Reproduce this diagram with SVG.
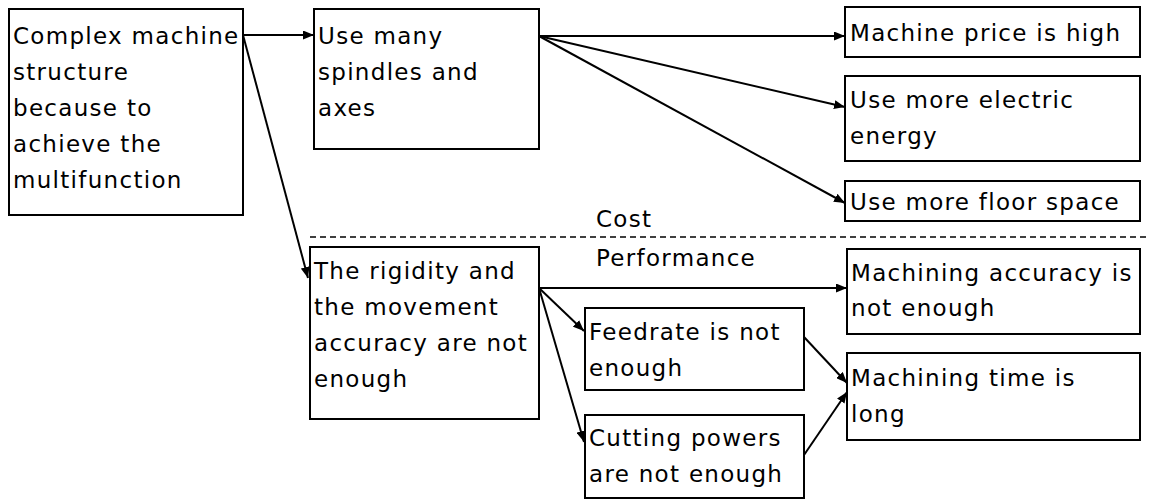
<svg xmlns="http://www.w3.org/2000/svg" width="1149" height="499" viewBox="0 0 1149 499">
  <style>
    .box { fill: #ffffff; stroke: #000000; stroke-width: 2; }
    .lbl { font-family: "DejaVu Sans", "Noto Sans", sans-serif; font-size: 23px; letter-spacing: 1.3px; fill: #000000; }
    .edge { fill: none; stroke: #000000; stroke-width: 2; }
    .divider { fill: none; stroke: #000000; stroke-width: 1.5; stroke-dasharray: 6 4; }
  </style>
  <defs>
    <marker id="arrow" markerUnits="userSpaceOnUse" markerWidth="11" markerHeight="9" refX="11" refY="4.5" orient="auto">
      <path d="M0,0 L11,4.5 L0,9 Z" fill="#000000"/>
    </marker>
  </defs>
  <rect width="1149" height="499" fill="#ffffff"/>

  <!-- cost / performance divider -->
  <g id="divider">
    <line class="divider" x1="310" y1="237" x2="1149" y2="237"/>
    <text class="lbl" x="596" y="227">Cost</text>
    <text class="lbl" x="596" y="266">Performance</text>
  </g>

  <g id="n-structure">
    <rect class="box" x="9" y="9" width="234" height="206"/>
    <text class="lbl" x="13" y="44">Complex machine</text>
    <text class="lbl" x="13" y="80">structure</text>
    <text class="lbl" x="13" y="116">because to</text>
    <text class="lbl" x="13" y="152">achieve the</text>
    <text class="lbl" x="13" y="188">multifunction</text>
  </g>

  <g id="n-spindles">
    <rect class="box" x="314" y="9" width="225" height="140"/>
    <text class="lbl" x="318" y="44">Use many</text>
    <text class="lbl" x="318" y="80">spindles and</text>
    <text class="lbl" x="318" y="116">axes</text>
  </g>

  <g id="n-price">
    <rect class="box" x="845" y="7" width="295" height="50"/>
    <text class="lbl" x="850" y="41">Machine price is high</text>
  </g>

  <g id="n-energy">
    <rect class="box" x="845" y="76" width="295" height="85"/>
    <text class="lbl" x="850" y="108">Use more electric</text>
    <text class="lbl" x="850" y="144">energy</text>
  </g>

  <g id="n-floor">
    <rect class="box" x="845" y="181" width="295" height="40"/>
    <text class="lbl" x="850" y="210">Use more floor space</text>
  </g>

  <g id="n-rigidity">
    <rect class="box" x="310" y="247" width="229" height="172"/>
    <text class="lbl" x="314" y="279">The rigidity and</text>
    <text class="lbl" x="314" y="315">the movement</text>
    <text class="lbl" x="314" y="351">accuracy are not</text>
    <text class="lbl" x="314" y="387">enough</text>
  </g>

  <g id="n-accuracy">
    <rect class="box" x="847" y="249" width="293" height="85"/>
    <text class="lbl" x="851" y="281">Machining accuracy is</text>
    <text class="lbl" x="851" y="316">not enough</text>
  </g>

  <g id="n-feedrate">
    <rect class="box" x="585" y="308" width="219" height="82"/>
    <text class="lbl" x="589" y="340">Feedrate is not</text>
    <text class="lbl" x="589" y="376">enough</text>
  </g>

  <g id="n-cutting">
    <rect class="box" x="585" y="415" width="219" height="83"/>
    <text class="lbl" x="589" y="446">Cutting powers</text>
    <text class="lbl" x="589" y="482">are not enough</text>
  </g>

  <g id="n-time">
    <rect class="box" x="847" y="353" width="293" height="87"/>
    <text class="lbl" x="851" y="386">Machining time is</text>
    <text class="lbl" x="851" y="422">long</text>
  </g>

  <g id="connectors">
    <line class="edge" x1="243" y1="35" x2="314" y2="35" marker-end="url(#arrow)"/>
    <line class="edge" x1="243" y1="35" x2="308" y2="278" marker-end="url(#arrow)"/>
    <line class="edge" x1="539" y1="36" x2="845" y2="36" marker-end="url(#arrow)"/>
    <line class="edge" x1="539" y1="36" x2="845" y2="107" marker-end="url(#arrow)"/>
    <line class="edge" x1="539" y1="36" x2="845" y2="203" marker-end="url(#arrow)"/>
    <line class="edge" x1="539" y1="288" x2="847" y2="288" marker-end="url(#arrow)"/>
    <line class="edge" x1="539" y1="288" x2="584" y2="331" marker-end="url(#arrow)"/>
    <line class="edge" x1="539" y1="288" x2="584" y2="442" marker-end="url(#arrow)"/>
    <line class="edge" x1="804" y1="337" x2="847" y2="383" marker-end="url(#arrow)"/>
    <line class="edge" x1="804" y1="455" x2="847" y2="392" marker-end="url(#arrow)"/>
  </g>
</svg>
